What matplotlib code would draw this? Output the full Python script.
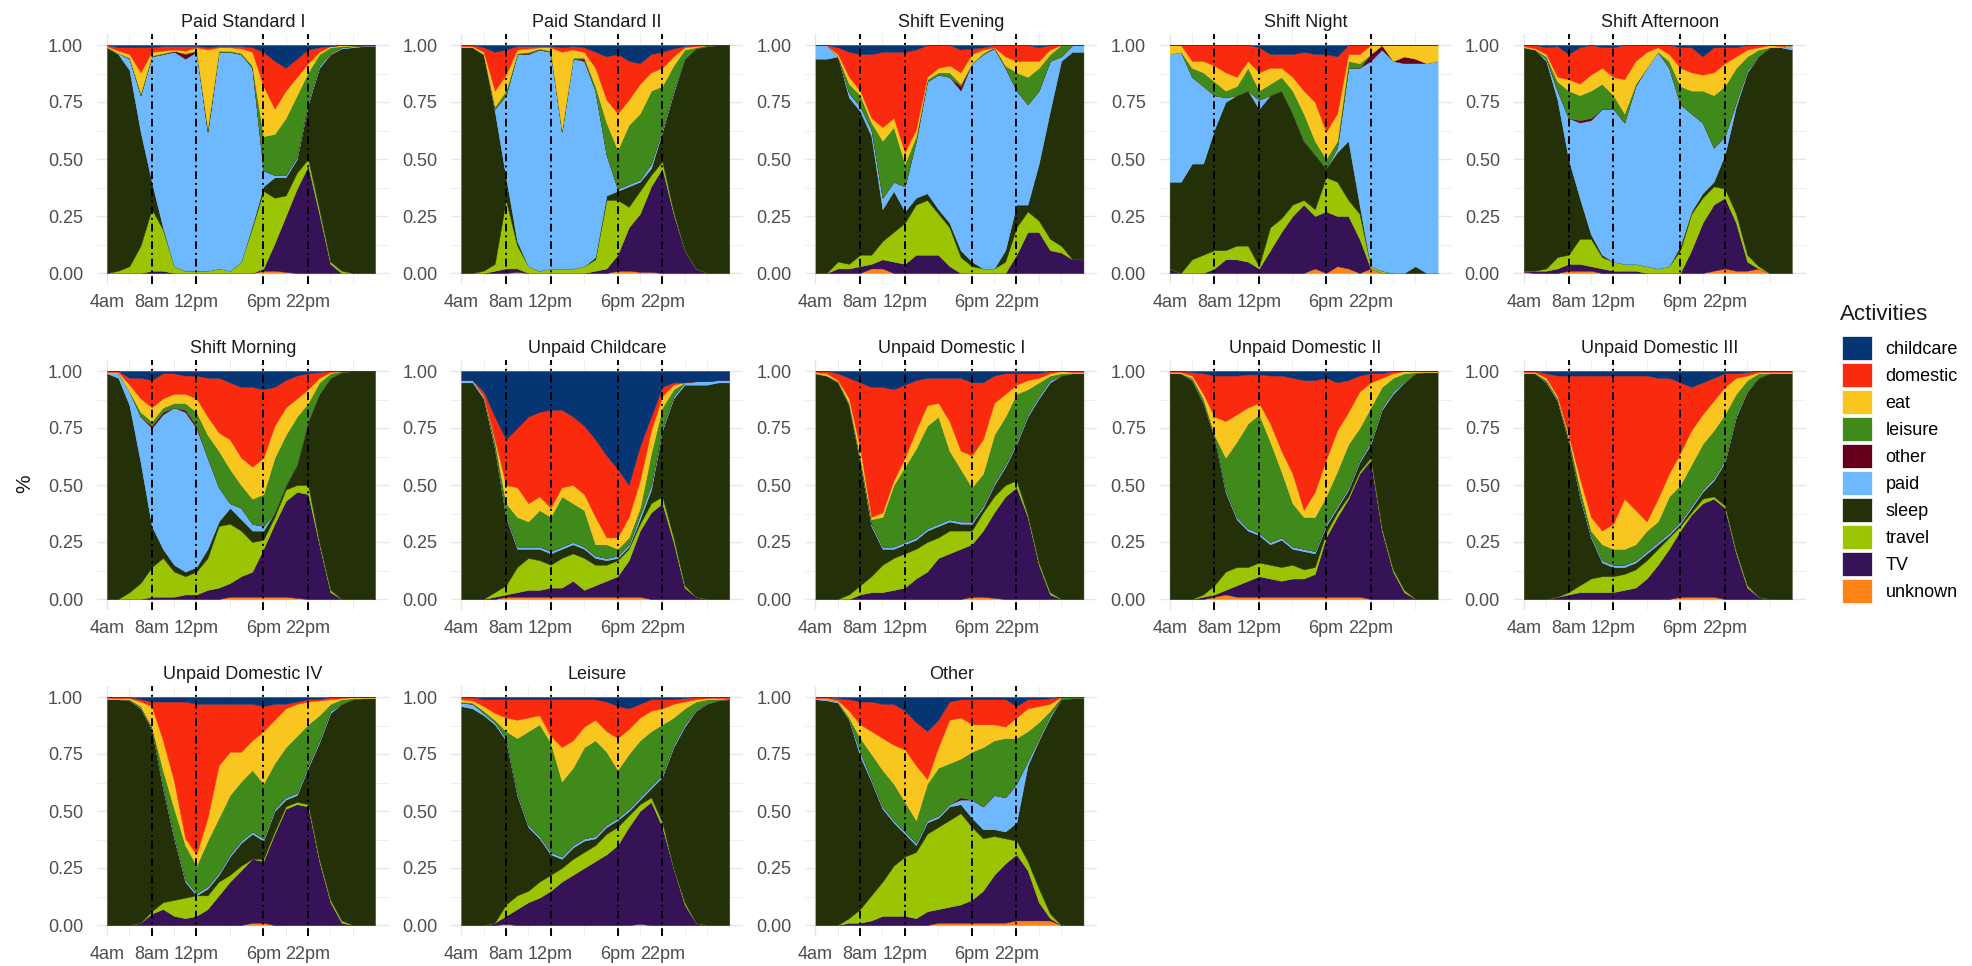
import matplotlib.pyplot as plt
import numpy as np
from matplotlib.patches import Patch

plt.rcParams["font.family"] = ["Liberation Sans", "DejaVu Sans"]

# stacking order, bottom to top
activities = ["unknown", "TV", "travel", "sleep", "paid", "other",
              "leisure", "eat", "domestic", "childcare"]
colors = {
    "childcare": "#053572",
    "domestic": "#FA2A0E",
    "eat": "#F9C61F",
    "leisure": "#408A1C",
    "other": "#66001A",
    "paid": "#6DB8FF",
    "sleep": "#243108",
    "travel": "#9BC402",
    "TV": "#361257",
    "unknown": "#FF8217",
}

hours = np.arange(25)  # hours after 4am
tick_hours = [0, 4, 8, 14, 18]
tick_labels = ["4am", "8am", "12pm", "6pm", "22pm"]
minor_hours = [2, 6, 11, 16, 20, 22]
marker_hours = [4, 8, 14, 18]

# Each cluster: cumulative upper edge of the layers, read from the bottom:
# unknown, TV, travel, sleep, paid, other, leisure, eat, domestic
# (childcare fills the rest up to 1).
paid_standard_1 = [
    [0, 0, 0, 0, 0, 0, 0, 0, 0, 0, 0, 0, 0, 0, .01, .01, .005, 0, 0, 0, 0, 0, 0, 0, 0],
    [0, 0, 0, 0, .01, .01, 0, 0, 0, 0, 0, 0, 0, 0, .02, .13, .25, .37, .47, .26, .04, 0, 0, 0, 0],
    [0, .01, .03, .12, .28, .19, .03, .01, .01, .01, .02, .01, .05, .20, .36, .33, .34, .44, .50, .28, .05, .01, 0, 0, 0],
    [.99, .96, .89, .62, .40, .20, .03, .01, .01, .01, .02, .01, .05, .21, .38, .42, .42, .50, .74, .90, .96, .985, .99, .995, .995],
    [.99, .965, .94, .78, .95, .96, .97, .94, .97, .62, .97, .97, .96, .90, .45, .43, .43, .51, .75, .91, .965, .99, .995, .998, .998],
    [.99, .965, .94, .78, .95, .96, .975, .96, .975, .62, .97, .97, .96, .90, .45, .43, .43, .51, .75, .91, .965, .99, .995, .998, .998],
    [.99, .965, .945, .79, .955, .965, .975, .965, .975, .64, .975, .975, .965, .91, .60, .61, .68, .78, .88, .96, .99, .995, .998, 1, 1],
    [.995, .975, .96, .88, .97, .975, .98, .975, .99, .98, .99, .99, .985, .97, .82, .72, .80, .86, .92, .97, .995, 1, 1, 1, 1],
    [1, .99, .99, .99, .99, .995, .995, .995, .995, .99, .995, .995, .995, .99, .97, .93, .90, .94, .98, .99, .995, 1, 1, 1, 1],
]
paid_standard_2 = [
    [0, 0, 0, 0, 0, .005, 0, 0, 0, 0, 0, 0, 0, 0, .01, .01, .005, .005, 0, 0, 0, 0, 0, 0, 0],
    [0, 0, 0, .01, .02, .02, 0, 0, 0, 0, 0, 0, .01, .02, .08, .20, .26, .38, .46, .26, .10, .02, 0, 0, 0],
    [0, 0, .01, .04, .32, .12, .03, .01, .02, .02, .02, .03, .06, .32, .32, .29, .36, .43, .49, .27, .10, .02, 0, 0, 0],
    [.99, .99, .96, .71, .42, .14, .03, .01, .02, .02, .02, .03, .07, .34, .36, .38, .40, .46, .62, .79, .94, .985, .995, 1, 1],
    [.99, .99, .96, .72, .78, .96, .96, .98, .97, .62, .94, .93, .80, .52, .37, .39, .41, .48, .63, .80, .94, .985, .995, 1, 1],
    [.99, .99, .96, .72, .78, .96, .965, .98, .97, .62, .94, .94, .80, .52, .37, .39, .41, .48, .63, .80, .94, .985, .995, 1, 1],
    [.99, .99, .96, .73, .80, .965, .97, .985, .975, .63, .945, .945, .82, .66, .54, .65, .70, .80, .82, .91, .98, .99, 1, 1, 1],
    [.995, .995, .97, .80, .87, .98, .985, .99, .99, .97, .98, .97, .90, .76, .70, .76, .83, .88, .90, .95, .99, .995, 1, 1, 1],
    [1, 1, .99, .97, .98, .995, .995, .995, .995, .99, .995, .99, .97, .95, .96, .93, .92, .96, .97, .985, .995, 1, 1, 1, 1],
]
shift_evening = [
    [0, 0, 0, 0, 0, .02, .02, 0, 0, 0, 0, 0, 0, 0, 0, 0, 0, 0, 0, 0, 0, 0, 0, 0, 0],
    [0, 0, .02, .02, .03, .04, .06, .05, .04, .08, .08, .08, .03, 0, 0, 0, 0, 0, .08, .18, .18, .10, .09, .06, .06],
    [0, 0, .05, .04, .08, .08, .14, .18, .22, .30, .32, .26, .20, .07, .03, .02, .02, .05, .20, .27, .23, .15, .12, .06, .06],
    [.94, .94, .95, .77, .71, .60, .28, .36, .27, .33, .35, .28, .22, .10, .05, .02, .02, .10, .30, .30, .48, .71, .93, .97, .97],
    [1, 1, .95, .79, .73, .63, .33, .40, .38, .58, .84, .87, .86, .80, .92, .96, .985, .90, .80, .74, .80, .93, .95, 1, 1],
    [1, 1, .95, .79, .73, .63, .33, .40, .38, .58, .84, .87, .86, .82, .92, .96, .99, .90, .80, .74, .80, .93, .95, 1, 1],
    [1, 1, .95, .83, .78, .66, .58, .64, .48, .60, .85, .88, .88, .83, .92, .965, .99, .91, .88, .86, .90, .96, 1, 1, 1],
    [1, 1, .96, .86, .80, .68, .64, .68, .53, .63, .86, .90, .91, .88, .96, .98, .99, .95, .93, .93, .93, .98, 1, 1, 1],
    [1, 1, .99, .97, .96, .96, .97, .97, .97, .98, 1, 1, 1, .98, .985, .99, 1, 1, 1, 1, .99, 1, 1, 1, 1],
]
shift_night = [
    [0, 0, 0, 0, 0, 0, 0, 0, 0, 0, 0, 0, 0, .02, 0, .03, .02, 0, .02, 0, 0, 0, 0, 0, 0],
    [.02, 0, 0, 0, .02, .06, .06, .05, .02, .10, .18, .25, .30, .25, .27, .25, .25, .15, .02, 0, 0, 0, 0, 0, 0],
    [.02, 0, .06, .08, .10, .10, .12, .12, .03, .20, .24, .30, .32, .28, .42, .40, .32, .26, .03, .01, 0, 0, 0, 0, 0],
    [.40, .40, .48, .48, .63, .75, .78, .80, .72, .78, .80, .70, .58, .52, .46, .53, .58, .30, .03, .01, 0, 0, .03, 0, 0],
    [.96, .97, .86, .82, .78, .77, .78, .80, .76, .78, .80, .70, .58, .52, .46, .55, .90, .90, .93, .98, .93, .92, .92, .92, .93],
    [.96, .97, .86, .82, .78, .77, .78, .80, .76, .78, .80, .70, .58, .52, .46, .55, .90, .90, .96, 1, .93, .95, .94, .92, .93],
    [.96, .97, .90, .88, .84, .80, .82, .90, .80, .83, .86, .80, .70, .58, .50, .58, .93, .92, .96, 1, .93, .95, .94, .92, .93],
    [1, 1, .93, .93, .91, .88, .86, .93, .88, .90, .90, .86, .80, .75, .62, .70, .96, .96, 1, 1, 1, 1, 1, 1, 1],
    [1, 1, 1, 1, 1, 1, 1, 1, .99, .96, .96, .96, .97, .96, .96, .95, 1, 1, 1, 1, 1, 1, 1, 1, 1],
]
shift_afternoon = [
    [.005, 0, 0, 0, .01, .01, .01, 0, 0, 0, 0, 0, 0, 0, 0, 0, 0, .01, .02, .01, .01, .02, 0, 0, 0],
    [.01, .01, .01, .02, .04, .04, .03, .02, .01, .01, .01, 0, 0, 0, 0, .10, .22, .30, .33, .22, .05, .02, 0, 0, 0],
    [.01, .01, .02, .07, .08, .15, .15, .07, .05, .04, .04, .03, .02, .03, .10, .26, .33, .38, .37, .26, .08, .03, 0, 0, 0],
    [.99, .98, .93, .76, .50, .33, .17, .08, .05, .04, .04, .03, .02, .03, .12, .27, .35, .40, .52, .73, .88, .95, .99, .99, .98],
    [.99, .98, .94, .80, .68, .66, .67, .72, .72, .66, .82, .90, .97, .90, .74, .70, .66, .55, .60, .75, .89, .95, .99, .99, 1],
    [.99, .98, .94, .80, .68, .67, .68, .72, .72, .66, .82, .90, .97, .90, .74, .70, .66, .55, .60, .75, .89, .95, .99, .99, 1],
    [.99, .98, .95, .84, .80, .78, .80, .83, .78, .70, .83, .90, .97, .93, .82, .80, .80, .78, .82, .90, .95, .98, .99, .99, 1],
    [.995, .985, .96, .86, .85, .83, .87, .90, .86, .85, .93, .97, .99, .96, .90, .88, .87, .88, .92, .95, .98, .99, 1, .995, 1],
    [1, 1, .99, .995, .96, .99, 1, .99, .99, 1, 1, 1, 1, 1, .99, .99, .95, .99, .99, .99, 1, 1, 1, 1, 1],
]
shift_morning = [
    [0, 0, 0, 0, 0, 0, 0, 0, 0, 0, 0, .01, .01, .01, .01, .01, .01, .005, 0, 0, 0, 0, 0, 0, 0],
    [0, 0, 0, 0, .01, .01, .01, .02, .02, .04, .05, .07, .10, .12, .22, .33, .43, .47, .46, .24, .03, 0, 0, 0, 0],
    [0, 0, .03, .07, .14, .18, .12, .10, .12, .18, .32, .33, .30, .25, .26, .36, .48, .50, .50, .25, .04, 0, 0, 0, 0],
    [.99, .97, .85, .60, .32, .22, .15, .12, .14, .22, .34, .40, .35, .30, .30, .38, .50, .59, .78, .90, .97, .995, 1, 1, 1],
    [.99, .99, .91, .80, .75, .81, .84, .82, .75, .62, .49, .42, .40, .33, .32, .38, .50, .59, .78, .90, .97, .995, 1, 1, 1],
    [.99, .99, .91, .80, .76, .82, .84, .83, .76, .62, .49, .42, .40, .33, .32, .38, .50, .59, .78, .90, .97, .995, 1, 1, 1],
    [.99, .99, .91, .82, .78, .84, .86, .86, .82, .72, .65, .57, .50, .44, .46, .62, .72, .80, .86, .95, .99, 1, 1, 1, 1],
    [.995, .995, .94, .88, .84, .88, .90, .90, .88, .80, .73, .70, .62, .58, .62, .76, .84, .88, .92, .97, .995, 1, 1, 1, 1],
    [1, 1, .97, .97, .96, .99, .99, .98, .98, .97, .97, .95, .93, .93, .92, .93, .96, .98, .99, .995, 1, 1, 1, 1, 1],
]
unpaid_childcare = [
    [0, 0, 0, 0, .01, .01, .01, .01, .01, .01, .01, .01, .01, .01, .01, .01, .01, 0, 0, 0, 0, 0, 0, 0, 0],
    [0, 0, 0, .01, .02, .03, .04, .04, .05, .05, .08, .04, .06, .08, .10, .17, .30, .38, .42, .25, .05, .01, 0, 0, 0],
    [0, 0, 0, .03, .06, .14, .18, .17, .15, .18, .20, .18, .15, .15, .17, .22, .33, .42, .45, .27, .06, .01, 0, 0, 0],
    [.95, .95, .88, .66, .36, .22, .22, .22, .20, .22, .24, .22, .18, .17, .18, .23, .35, .48, .74, .88, .94, .94, .94, .95, .95],
    [.96, .96, .89, .67, .37, .23, .23, .23, .21, .23, .25, .23, .19, .18, .19, .24, .37, .50, .75, .89, .95, .955, .955, .96, .96],
    [.96, .96, .89, .67, .37, .23, .23, .23, .21, .23, .25, .23, .19, .18, .19, .24, .37, .50, .75, .89, .95, .955, .955, .96, .96],
    [.96, .96, .89, .69, .42, .36, .34, .39, .36, .45, .42, .39, .24, .24, .22, .27, .40, .64, .84, .92, .95, .955, .955, .96, .96],
    [.96, .96, .89, .70, .50, .49, .42, .45, .40, .49, .50, .46, .36, .27, .27, .36, .52, .74, .89, .94, .95, .955, .955, .96, .96],
    [.96, .96, .91, .80, .70, .75, .80, .82, .83, .83, .80, .76, .70, .63, .57, .50, .67, .80, .93, .95, .95, .955, .955, .96, .96],
]
unpaid_domestic_1 = [
    [0, 0, 0, 0, 0, 0, 0, 0, 0, 0, 0, 0, 0, 0, .01, .01, .005, 0, 0, 0, 0, 0, 0, 0, 0],
    [0, 0, 0, 0, .02, .03, .03, .04, .05, .09, .12, .18, .20, .22, .24, .30, .38, .45, .49, .36, .15, .02, 0, 0, 0],
    [0, 0, 0, .02, .06, .10, .15, .18, .20, .22, .25, .27, .30, .30, .30, .38, .45, .50, .52, .37, .16, .03, 0, 0, 0],
    [.99, .98, .95, .85, .60, .32, .22, .22, .24, .26, .30, .32, .34, .33, .33, .40, .50, .58, .68, .80, .88, .95, .98, .99, .99],
    [.99, .98, .95, .855, .61, .33, .23, .23, .25, .27, .31, .33, .35, .34, .34, .41, .51, .59, .69, .81, .89, .96, .98, .99, .99],
    [.99, .98, .95, .855, .61, .33, .23, .23, .25, .27, .31, .33, .35, .34, .34, .41, .51, .59, .69, .81, .89, .96, .98, .99, .99],
    [.99, .98, .955, .86, .62, .35, .36, .50, .58, .66, .76, .80, .65, .57, .49, .55, .72, .80, .90, .92, .95, .98, .99, .99, .99],
    [.995, .99, .96, .88, .66, .36, .38, .52, .62, .74, .85, .86, .78, .65, .63, .70, .86, .90, .94, .96, .97, .99, 1, .995, .995],
    [1, 1, .99, .97, .95, .93, .93, .92, .94, .96, .97, .97, .97, .97, .95, .95, .98, .99, .99, .99, .99, 1, 1, 1, 1],
]
unpaid_domestic_2 = [
    [0, 0, 0, 0, .01, .02, .01, .01, .01, .01, .01, .01, .01, .01, .01, .01, .01, .01, 0, 0, 0, 0, 0, 0, 0],
    [0, 0, 0, .01, .02, .04, .06, .08, .10, .09, .08, .09, .09, .11, .27, .36, .44, .55, .61, .30, .12, .03, 0, 0, 0],
    [0, 0, 0, .02, .06, .12, .14, .14, .16, .15, .14, .15, .13, .14, .29, .38, .45, .56, .62, .31, .13, .04, 0, 0, 0],
    [.99, .99, .96, .86, .71, .47, .35, .30, .28, .24, .26, .22, .21, .20, .32, .40, .48, .60, .68, .83, .90, .95, .99, .995, .995],
    [.99, .99, .965, .865, .715, .48, .36, .31, .29, .25, .27, .23, .22, .21, .33, .41, .49, .61, .69, .84, .91, .955, .99, .995, .995],
    [.99, .99, .965, .865, .715, .48, .36, .31, .29, .25, .27, .23, .22, .21, .33, .41, .49, .61, .69, .84, .91, .955, .99, .995, .995],
    [.99, .99, .97, .88, .72, .62, .69, .77, .81, .69, .56, .42, .36, .36, .45, .56, .68, .75, .84, .93, .97, .99, .995, .995, .995],
    [.995, .995, .98, .90, .80, .78, .81, .84, .86, .77, .65, .55, .39, .47, .61, .74, .82, .91, .95, .97, .99, 1, 1, 1, 1],
    [1, 1, .995, .99, .98, .98, .98, .985, .985, .98, .98, .97, .96, .96, .97, .95, .96, .98, .99, .99, 1, 1, 1, 1, 1],
]
unpaid_domestic_3 = [
    [0, 0, 0, 0, 0, 0, 0, 0, 0, 0, 0, 0, 0, 0, .01, .01, .01, .01, 0, 0, 0, 0, 0, 0, 0],
    [0, 0, 0, .01, .02, .03, .03, .03, .03, .04, .05, .09, .15, .22, .30, .37, .42, .44, .40, .20, .05, .01, 0, 0, 0],
    [0, 0, 0, .01, .03, .06, .09, .10, .10, .11, .13, .17, .22, .27, .32, .38, .44, .45, .41, .21, .06, .01, 0, 0, 0],
    [.99, .99, .95, .87, .69, .45, .27, .16, .14, .14, .16, .20, .24, .28, .33, .40, .47, .52, .60, .80, .91, .97, .99, .99, .99],
    [.99, .99, .955, .875, .695, .46, .28, .17, .15, .15, .17, .21, .25, .29, .34, .41, .48, .53, .61, .81, .915, .97, .99, .99, .99],
    [.99, .99, .955, .875, .695, .46, .28, .17, .15, .15, .17, .21, .25, .29, .34, .41, .48, .53, .61, .81, .915, .97, .99, .99, .99],
    [.99, .99, .96, .88, .71, .49, .30, .24, .22, .22, .24, .30, .34, .45, .50, .59, .68, .74, .81, .90, .96, .99, .99, .99, .99],
    [.995, .995, .97, .89, .72, .53, .36, .30, .33, .44, .39, .34, .44, .55, .64, .74, .81, .87, .93, .97, .98, .995, .995, .995, .995],
    [1, 1, .99, .98, .98, .98, .98, .98, .98, .98, .98, .98, .97, .97, .95, .93, .95, .97, .99, .99, .995, 1, 1, 1, 1],
]
unpaid_domestic_4 = [
    [0, 0, 0, 0, 0, 0, 0, 0, 0, 0, 0, 0, 0, .01, .01, 0, 0, 0, 0, 0, 0, 0, 0, 0, 0],
    [0, 0, 0, .01, .05, .07, .04, .03, .04, .07, .13, .19, .24, .29, .28, .40, .51, .53, .52, .28, .10, .01, 0, 0, 0],
    [0, 0, 0, .01, .06, .10, .11, .12, .13, .13, .19, .22, .26, .29, .29, .41, .52, .54, .53, .29, .11, .02, 0, 0, 0],
    [.99, .99, .985, .95, .86, .60, .38, .19, .13, .16, .22, .30, .36, .40, .37, .50, .55, .57, .69, .80, .93, .97, .99, .995, .995],
    [.99, .99, .985, .955, .865, .61, .39, .20, .14, .17, .23, .31, .37, .41, .38, .51, .56, .58, .70, .81, .94, .97, .99, .995, .995],
    [.99, .99, .985, .955, .865, .61, .39, .20, .14, .17, .23, .31, .37, .41, .38, .51, .56, .58, .70, .81, .94, .97, .99, .995, .995],
    [.99, .99, .99, .96, .87, .68, .51, .35, .26, .37, .47, .57, .63, .68, .62, .71, .78, .83, .88, .92, .97, .99, .995, .995, .995],
    [.995, .995, .995, .98, .96, .81, .63, .38, .31, .47, .70, .76, .76, .81, .85, .90, .95, .97, .98, .985, .99, .995, 1, 1, 1],
    [1, 1, 1, .99, .98, .98, .98, .98, .97, .97, .97, .97, .97, .97, .96, .97, .97, .98, .99, .99, 1, 1, 1, 1, 1],
]
leisure = [
    [0, 0, 0, 0, .005, 0, 0, 0, 0, 0, 0, 0, 0, 0, 0, 0, .005, 0, 0, 0, 0, 0, 0, 0, 0],
    [0, 0, 0, .01, .04, .07, .10, .12, .15, .19, .22, .25, .28, .31, .35, .43, .50, .54, .43, .25, .09, .01, 0, 0, 0],
    [0, 0, 0, .01, .09, .13, .15, .19, .22, .25, .29, .32, .35, .40, .43, .48, .53, .56, .45, .25, .10, .01, 0, 0, 0],
    [.96, .95, .92, .88, .81, .57, .43, .38, .31, .29, .34, .37, .38, .43, .46, .50, .55, .60, .65, .78, .87, .94, .97, .985, .99],
    [.975, .97, .93, .89, .82, .58, .44, .39, .32, .30, .35, .38, .39, .44, .47, .51, .56, .61, .66, .79, .88, .945, .97, .985, .99],
    [.975, .97, .93, .89, .82, .58, .44, .39, .32, .30, .35, .38, .39, .44, .47, .51, .56, .61, .66, .79, .88, .945, .97, .985, .99],
    [.98, .975, .94, .90, .85, .82, .85, .88, .80, .63, .69, .78, .81, .76, .68, .75, .81, .85, .88, .91, .95, .98, .99, .99, .995],
    [.99, .985, .96, .93, .91, .90, .91, .92, .83, .78, .81, .87, .90, .85, .82, .86, .91, .94, .95, .97, .98, .99, .995, .995, .995],
    [1, 1, .99, .99, .99, .99, .99, .99, .99, .99, .99, .99, .99, .98, .96, .95, .97, .99, .99, .99, .995, 1, 1, 1, 1],
]
other = [
    [0, 0, 0, 0, 0, 0, 0, 0, 0, 0, 0, .01, .01, .01, .01, .01, .01, .01, .02, .02, .02, .02, 0, 0, 0],
    [0, 0, 0, .01, .01, .02, .04, .04, .04, .03, .06, .07, .08, .09, .11, .15, .22, .27, .31, .24, .10, .03, 0, 0, 0],
    [0, 0, 0, .03, .07, .13, .19, .26, .30, .32, .40, .43, .46, .49, .43, .38, .39, .38, .37, .28, .16, .05, 0, 0, 0],
    [.99, .985, .975, .90, .74, .63, .51, .45, .40, .35, .45, .47, .52, .53, .47, .42, .42, .41, .45, .70, .81, .91, .99, .995, .995],
    [.99, .99, .98, .905, .76, .64, .52, .46, .41, .36, .46, .48, .53, .55, .55, .52, .57, .56, .62, .72, .82, .92, .99, .995, .995],
    [.99, .99, .98, .905, .76, .64, .52, .46, .41, .36, .46, .48, .53, .56, .55, .52, .57, .56, .62, .72, .82, .92, .99, .995, .995],
    [.99, .99, .98, .91, .82, .75, .68, .62, .54, .46, .62, .69, .71, .73, .76, .78, .81, .82, .82, .85, .89, .94, 1, 1, 1],
    [.995, .995, .985, .94, .88, .85, .82, .79, .77, .70, .64, .78, .90, .91, .88, .88, .88, .87, .91, .95, .96, .97, 1, 1, 1],
    [1, 1, .995, .99, .98, .98, .97, .97, .94, .89, .85, .90, .98, .99, .99, .99, .99, .99, .96, .99, .99, .995, 1, 1, 1],
]

panels = [
    ("Paid Standard I", paid_standard_1),
    ("Paid Standard II", paid_standard_2),
    ("Shift Evening", shift_evening),
    ("Shift Night", shift_night),
    ("Shift Afternoon", shift_afternoon),
    ("Shift Morning", shift_morning),
    ("Unpaid Childcare", unpaid_childcare),
    ("Unpaid Domestic I", unpaid_domestic_1),
    ("Unpaid Domestic II", unpaid_domestic_2),
    ("Unpaid Domestic III", unpaid_domestic_3),
    ("Unpaid Domestic IV", unpaid_domestic_4),
    ("Leisure", leisure),
    ("Other", other),
]

W, H = 1972, 966
fig = plt.figure(figsize=(W / 100, H / 100), dpi=100)

for i, (title, edges) in enumerate(panels):
    r, c = divmod(i, 5)
    left = 97 + c * 354.2
    top = 33.6 + r * 326
    ax = fig.add_axes([left / W, 1 - (top + 250.8) / H, 292 / W, 250.8 / H])

    edges = np.clip(np.maximum.accumulate(np.array(edges, dtype=float), axis=0), 0, 1)
    n = edges.shape[1]
    shares = np.diff(np.vstack([np.zeros(n), edges, np.ones(n)]), axis=0)
    ax.stackplot(hours, shares, colors=[colors[a] for a in activities],
                 edgecolor="face", linewidth=0.3, zorder=2)

    for hx in marker_hours:
        ax.axvline(hx, color="black", lw=1.4, ls=(0, (4, 2, 1, 2)), zorder=3)

    ax.set_xlim(-0.9, 25.25)
    ax.set_ylim(-0.05, 1.05)
    ax.set_xticks(tick_hours)
    ax.set_xticklabels(tick_labels)
    ax.set_xticks(minor_hours, minor=True)
    ax.set_yticks([0, 0.25, 0.5, 0.75, 1.0])
    ax.set_yticklabels(["0.00", "0.25", "0.50", "0.75", "1.00"])
    ax.set_yticks([0.125, 0.375, 0.625, 0.875], minor=True)
    ax.grid(which="major", color="#E6E6E6", lw=1.0, zorder=0)
    ax.grid(which="minor", color="#EEEEEE", lw=0.7, zorder=0)
    ax.set_axisbelow(True)
    for sp in ax.spines.values():
        sp.set_visible(False)
    ax.tick_params(which="both", length=0, labelsize=13, colors="#4D4D4D")
    ax.tick_params(axis="x", pad=7)
    ax.tick_params(axis="y", pad=10)
    ax.set_title(title, fontsize=13, color="#1A1A1A", pad=5)

fig.text(25 / W, 1 - 484 / H, "%", rotation=90, fontsize=15,
         ha="center", va="center", color="#1A1A1A")

fig.text(1840 / W, 1 - 315 / H, "Activities", fontsize=16,
         ha="left", va="center", color="#1A1A1A")
legend_order = activities[::-1]
handles = [Patch(facecolor=colors[a], edgecolor="white", lw=0.5) for a in legend_order]
fs = 13 * 100 / 72
fig.legend(handles, legend_order, loc="upper left",
           bbox_to_anchor=(1842 / W, 1 - 336 / H), frameon=False, fontsize=13,
           handlelength=30 / fs, handleheight=30 / fs, labelspacing=3.1 / fs,
           handletextpad=13.7 / fs, borderpad=0, borderaxespad=0)

fig.savefig("out.png", dpi=100)
